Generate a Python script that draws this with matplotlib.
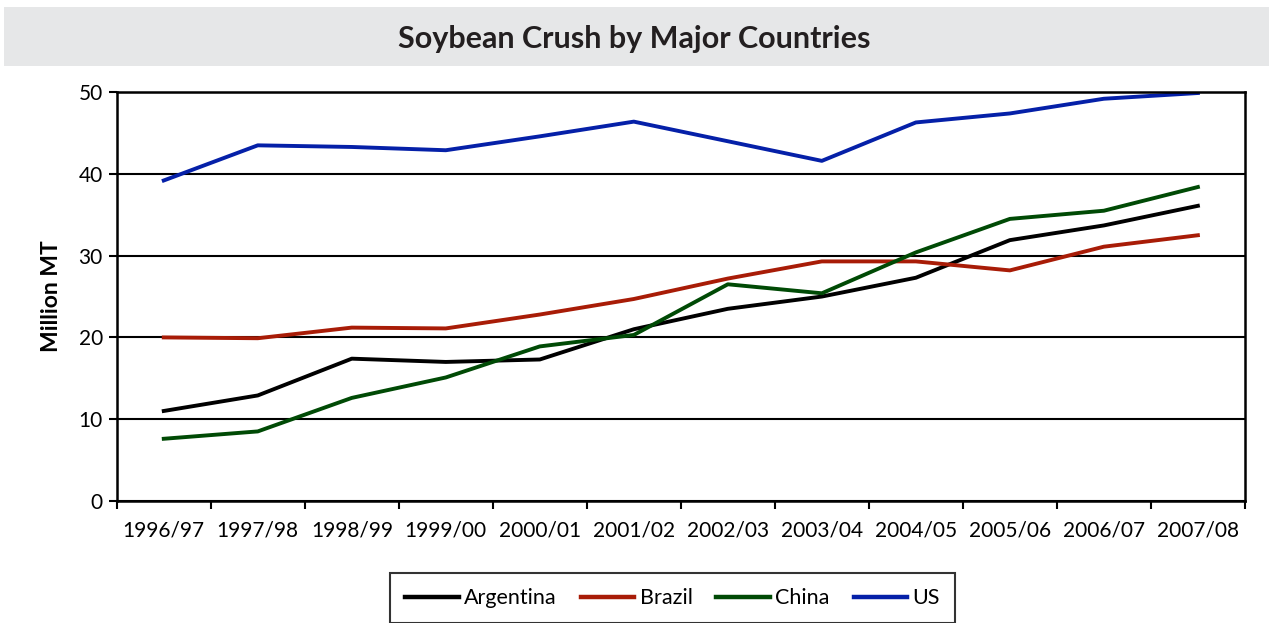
import numpy as np
import matplotlib.pyplot as plt
from matplotlib.patches import Rectangle

# Soybean crush by major countries, million MT
years = ['1996/97', '1997/98', '1998/99', '1999/00', '2000/01', '2001/02',
         '2002/03', '2003/04', '2004/05', '2005/06', '2006/07', '2007/08']
argentina = [11.0, 12.9, 17.4, 17.0, 17.3, 21.0, 23.5, 25.0, 27.3, 31.9, 33.7, 36.1]
brazil = [20.0, 19.9, 21.2, 21.1, 22.8, 24.7, 27.2, 29.3, 29.3, 28.2, 31.1, 32.5]
china = [7.6, 8.5, 12.6, 15.1, 18.9, 20.3, 26.5, 25.4, 30.4, 34.5, 35.5, 38.4]
us = [39.2, 43.5, 43.3, 42.9, 44.6, 46.4, 44.0, 41.6, 46.3, 47.4, 49.2, 49.9]

plt.rcParams['font.family'] = ['Lato', 'DejaVu Sans']

fig = plt.figure(figsize=(12.69, 6.23), dpi=100)

# grey title band
fig.patches.append(Rectangle((0.003, 0.894), 0.997, 0.095, transform=fig.transFigure,
                             facecolor='#e6e7e8', edgecolor='none', zorder=0))
fig.text(0.5, 0.937, 'Soybean Crush by Major Countries', ha='center', va='center',
         fontsize=22, fontweight='bold', color='#231f20')

ax = fig.add_axes([0.092, 0.196, 0.889, 0.656])
x = np.arange(len(years))
ax.plot(x, argentina, color='black', lw=2.8, label='Argentina')
ax.plot(x, brazil, color='#a81c07', lw=2.8, label='Brazil')
ax.plot(x, china, color='#004a05', lw=2.8, label='China')
ax.plot(x, us, color='#0520a8', lw=2.8, label='US')

ax.set_xlim(-0.5, len(years) - 0.5)
ax.set_ylim(0, 50)
ax.set_yticks(range(0, 51, 10))
ax.yaxis.grid(True, color='black', lw=1.5)
ax.set_axisbelow(True)

ax.set_xticks(np.arange(-0.5, len(years), 1.0))
ax.set_xticklabels([])
ax.set_xticks(x, minor=True)
ax.set_xticklabels(years, minor=True)
ax.tick_params(axis='x', which='minor', length=0, pad=14, labelsize=15)
ax.tick_params(axis='x', which='major', length=6, width=1.5)
ax.tick_params(axis='y', length=6, width=1.5, labelsize=15, pad=4)
for s in ax.spines.values():
    s.set_linewidth(1.8)

ax.set_ylabel('Million MT', fontsize=16.5, fontweight='bold', labelpad=12)

leg = fig.legend(loc='upper center', bbox_to_anchor=(0.53, 0.080), ncol=4,
                 fontsize=15.5, frameon=True, fancybox=False, edgecolor='black',
                 handlelength=2.5, handletextpad=0.25, columnspacing=1.1,
                 borderpad=0.7, borderaxespad=0)
leg.get_frame().set_linewidth(1.5)
for h in leg.get_lines():
    h.set_linewidth(3.2)

fig.savefig('out.png', dpi=100)
